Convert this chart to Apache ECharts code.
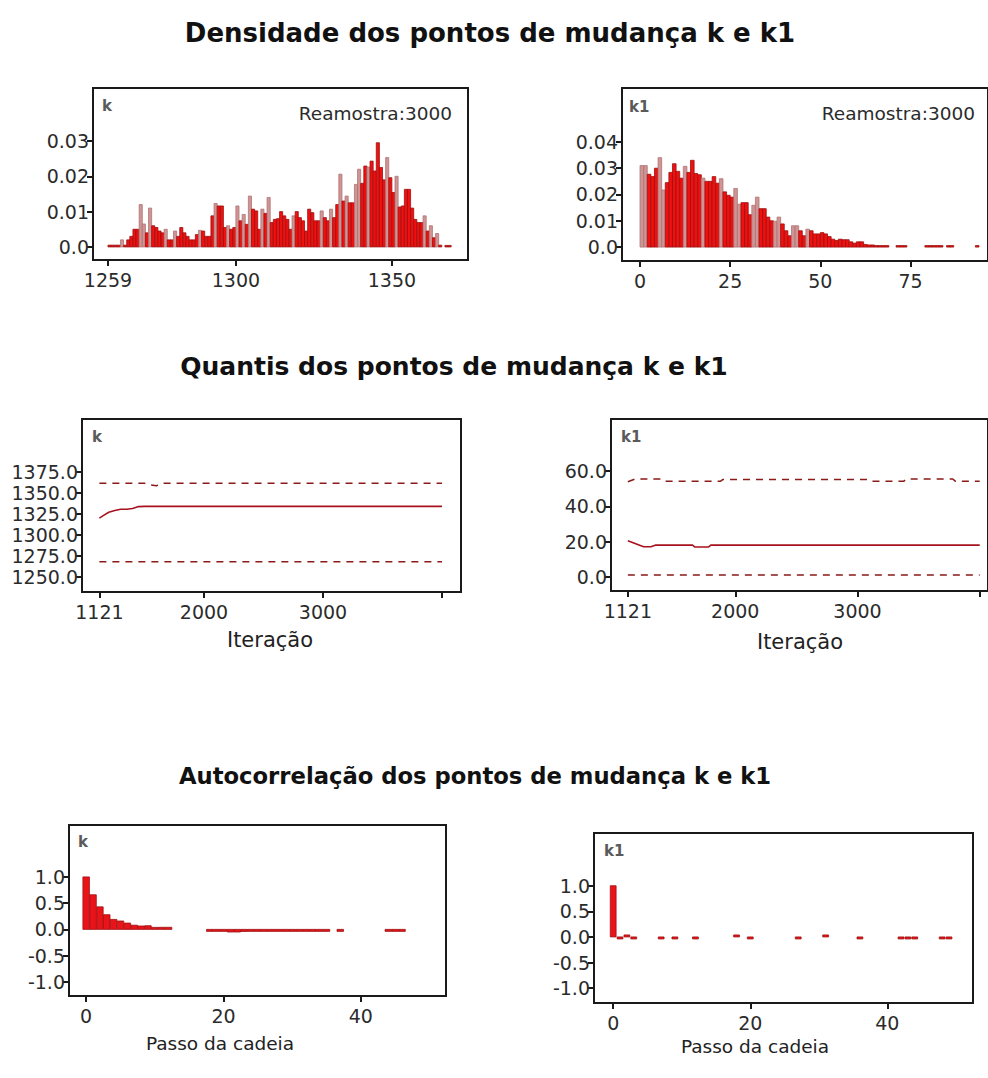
<!DOCTYPE html>
<html>
<head>
<meta charset="utf-8">
<script src="https://cdn.jsdelivr.net/npm/echarts@6/dist/echarts.min.js"></script>
<style>
html,body{margin:0;padding:0;background:#fff;}
#chart{width:988px;height:1078px;}
</style>
</head>
<body>
<div id="chart"></div>
<script>
// ---------------- DATA ----------------
// Histogram of k (density per unit bin, bins start at kHistStart)
const kHistStart = 1259;
const kHist = [
  0.0005,0.0005,0.0005,0.0005,0.002,0.0005,0.002,0.003,0.005,0.005,
  0.012,0.0065,0.004,0.011,0.006,0.0055,0.0045,0.004,0.005,0.002,
  0.002,0.0045,0.003,0.0055,0.004,0.003,0.002,0.002,0.0035,0.0047,
  0.0045,0.003,0.003,0.0088,0.0123,0.0116,0.0116,0.0055,0.006,0.005,
  0.0055,0.0116,0.0074,0.0092,0.0064,0.0144,0.0107,0.0102,0.005,0.0107,
  0.0095,0.014,0.0069,0.0078,0.008,0.01,0.0088,0.0078,0.005,0.0088,
  0.01,0.0083,0.0074,0.0045,0.0107,0.0097,0.0074,0.0074,0.0102,0.0083,
  0.0074,0.0107,0.0083,0.012,0.0206,0.013,0.0144,0.0125,0.0125,0.0177,
  0.022,0.018,0.0229,0.0226,0.0243,0.0215,0.0295,0.0225,0.019,0.0253,
  0.0196,0.0154,0.02,0.0113,0.0116,0.0163,0.0163,0.011,0.0078,0.0069,
  0.0069,0.0088,0.0045,0.006,0.0026,0.0038,0.0005,0,0.0003,0.0003
];
// Histogram of k1 (bins start at 0)
const k1HistStart = 0;
const k1Hist = [
  0.031,0.031,0.0277,0.0268,0.030,0.034,0.0217,0.0245,0.0284,0.0317,
  0.0288,0.0262,0.0307,0.0284,0.033,0.028,0.0275,0.0262,0.025,0.025,
  0.0268,0.0243,0.026,0.021,0.0197,0.019,0.0223,0.0163,0.0169,0.0169,
  0.0123,0.0159,0.019,0.0146,0.0146,0.0114,0.01,0.0098,0.0114,0.0088,
  0.0062,0.0043,0.0081,0.0081,0.0062,0.0043,0.0068,0.0062,0.005,0.005,
  0.0055,0.005,0.004,0.003,0.0025,0.003,0.0028,0.0028,0.002,0.0015,
  0.002,0.002,0.001,0.0008,0.0008,0.0005,0.0003,0.0003,0.0003,0,
  0,0.0003,0.0003,0.0003,0,0,0,0,0,0.0003,
  0.0003,0.0005,0.0005,0.0003,0,0.0003,0.0003,0,0,0,
  0,0,0,0.0003,0
];
// Quantiles of k along the chain
const kIter   = [1121,1160,1200,1250,1300,1350,1400,1450,1500,1550,1600,1650,1700,2000,2500,3000,3500,4000];
const kMedian = [1320,1323.5,1327,1329,1330.5,1330.6,1331.5,1333.7,1334,1334,1334,1334,1334,1334,1334,1334,1334,1334];
const kUpper  = [1361.5,1361.5,1361.5,1361.5,1361.5,1361.5,1361.5,1361.5,1361.5,1359.5,1358.5,1361.5,1361.5,1361.5,1361.5,1361.5,1361.5,1361.5];
const kLower  = [1268,1268,1268,1268,1268,1268,1268,1268,1268,1268,1268,1268,1268,1268,1268,1268,1268,1268];
// Quantiles of k1 along the chain
const k1Iter   = [1121,1180,1250,1310,1350,1390,1410,1650,1670,1780,1800,1880,1900,2500,3100,3120,3380,3400,3780,3800,4000];
const k1Median = [20.5,19,17.2,17.2,18.1,18.1,18.1,18.1,17.0,17.0,18.1,18.1,18.1,18.1,18.1,18.1,18.1,18.1,18.1,18.1,18.1];
const k1Upper  = [54,55.5,55.5,55.5,55.5,55.5,54.3,54.3,54.3,54.3,54.3,54.3,55.3,55.3,55.3,54.3,54.3,55.5,55.5,54.3,54.3];
const k1Lower  = [1.1,1.1,1.1,1.1,1.1,1.1,1.1,1.1,1.1,1.1,1.1,1.1,1.1,1.1,1.1,1.1,1.1,1.1,1.1,1.1,1.1];
// Autocorrelation by lag (null = not drawn)
const acfLags = Array.from({length:50},(_,i)=>i);
const acfK = [1.0,0.66,0.43,0.28,0.19,0.16,0.12,0.08,0.065,0.07,
  0.03,0.04,0.04,null,null,null,null,null,-0.01,-0.02,
  -0.03,-0.05,-0.05,-0.04,-0.02,-0.02,-0.01,-0.02,-0.01,-0.02,
  -0.02,-0.01,-0.01,-0.02,-0.01,-0.01,null,-0.01,null,null,
  null,null,null,null,-0.01,-0.01,-0.01,null,null,null];
const acfK1 = [1.0,-0.01,0.02,-0.01,null,null,null,-0.01,null,-0.01,
  null,null,-0.01,null,null,null,null,null,0.03,null,
  -0.01,null,null,null,null,null,null,-0.01,null,null,
  null,0.03,null,null,null,null,-0.01,null,null,null,
  null,null,-0.01,-0.01,-0.01,null,null,null,-0.01,-0.01];
// Tick labels
const kHistXTicks = [1259,1300,1350];
const kHistYTicks = [0,0.01,0.02,0.03];
const k1HistXTicks = [0,25,50,75];
const k1HistYTicks = [0,0.01,0.02,0.03,0.04];
const iterLabels = [1121,2000,3000];
const iterTicks = [1121,2000,3000,4000];
const kQYTicks = [1250,1275,1300,1325,1350,1375];
const k1QYTicks = [0,20,40,60];
const acfXTicks = [0,20,40];
const acfYTicks = [-1,-0.5,0,0.5,1];

// ---------------- STYLE ----------------
const pinkK = new Set([1263,1269,1270,1272,1277,1280,1288,1293,1297,1300,1302,1304,1308,1310,1318,1327,1330,1333,1335,1338,1339,1342,1348,1351,1360,1362,1364]);
const pinkK1 = new Set([0,1,5,6,12,17,22,26,27,31,32,37,38,42,43,46]);
const FONT = 'DejaVu Sans';
const TXT = '#2b2b2b';

function histData(start, vals, pinkSet){
  const out = [];
  vals.forEach((v,i)=>{ if (v>0) out.push([start+i, v, pinkSet.has(start+i)?1:0]); });
  return out;
}
function acfData(lags, vals){
  const out = [];
  lags.forEach((l,i)=>{ if (vals[i]!==null) out.push([l, vals[i]]); });
  return out;
}
function histRender(params, api){
  const x0 = api.value(0), h = api.value(1), pink = api.value(2);
  const a = api.coord([x0, 0]);
  const b = api.coord([x0+1, h]);
  let top = b[1], height = a[1]-b[1];
  if (height < 1.5){ top = a[1]-1.5; height = 1.5; }
  return {type:'rect', shape:{x:a[0], y:top, width:b[0]-a[0], height:height},
    style:{fill: pink ? '#cf9494' : '#f01010', stroke: pink ? '#b07474' : '#9a1010', lineWidth:0.8}};
}
function acfRenderFactory(w){
  return function(params, api){
    const l = api.value(0), v = api.value(1);
    const a = api.coord([l - w/2, 0]);
    const b = api.coord([l + w/2, v]);
    let y = Math.min(a[1], b[1]), h = Math.abs(a[1]-b[1]);
    if (h < 2){ y = (v>=0 ? a[1]-2 : a[1]); h = 2; }
    return {type:'rect', shape:{x:a[0], y:y, width:b[0]-a[0], height:h},
      style:{fill:'#e8141a', stroke:'#a01010', lineWidth:0.8}};
  };
}

const gridBase = {show:true, borderColor:'#1a1a1a', borderWidth:2, backgroundColor:'#fff', containLabel:false};
const grids = [
  Object.assign({left:93, top:88, width:375, height:172}, gridBase),
  Object.assign({left:622, top:88, width:367, height:173}, gridBase),
  Object.assign({left:82, top:419, width:379, height:173}, gridBase),
  Object.assign({left:611, top:419, width:378, height:172}, gridBase),
  Object.assign({left:69, top:825, width:377, height:171}, gridBase),
  Object.assign({left:594, top:833, width:379, height:170}, gridBase)
];

const fmtPlain = v => String(v);
function xAx(gi, min, max, labels, ticks){
  return {type:'value', gridIndex:gi, min:min, max:max,
    axisLine:{show:false, onZero:false},
    axisTick:{show:true, length:6, inside:false, customValues:ticks, lineStyle:{color:'#1a1a1a', width:2}},
    axisLabel:{show:true, customValues:labels, margin:10, fontFamily:FONT, fontSize:19, color:TXT, formatter:fmtPlain},
    splitLine:{show:false}};
}
function yAx(gi, min, max, ticks, fmt){
  return {type:'value', gridIndex:gi, min:min, max:max,
    axisLine:{show:false, onZero:false},
    axisTick:{show:true, length:6, inside:false, customValues:ticks, lineStyle:{color:'#1a1a1a', width:2}},
    axisLabel:{show:true, customValues:ticks, margin:4, fontFamily:FONT, fontSize:19, color:TXT, formatter:fmt},
    splitLine:{show:false}};
}
const fmtDens = v => (v===0 ? '0.0' : v.toFixed(2));
const fmt1 = v => v.toFixed(1);

const xAxes = [
  xAx(0, 1254.2, 1374.4, kHistXTicks, kHistXTicks),
  xAx(1, -5, 96.5, k1HistXTicks, k1HistXTicks),
  xAx(2, 975, 4160, iterLabels, iterTicks),
  xAx(3, 983, 4068, iterLabels, iterTicks),
  xAx(4, -2.5, 52.4, acfXTicks, acfXTicks),
  xAx(5, -2.8, 52.5, acfXTicks, acfXTicks)
];
const yAxes = [
  yAx(0, -0.0037, 0.045, kHistYTicks, fmtDens),
  yAx(1, -0.0053, 0.0605, k1HistYTicks, fmtDens),
  yAx(2, 1232, 1438, kQYTicks, fmt1),
  yAx(3, -7.9, 89.5, k1QYTicks, fmt1),
  yAx(4, -1.27, 1.99, acfYTicks, fmt1),
  yAx(5, -1.29, 2.03, acfYTicks, fmt1)
];

function zip(xs, ys){ return xs.map((x,i)=>[x, ys[i]]); }
const dashStyle = {color:'#8b1a1a', width:1.5, type:[7,6]};
const medStyle = {color:'#a8121e', width:1.6};
function lineS(gi, data, style){
  return {type:'line', xAxisIndex:gi, yAxisIndex:gi, data:data, showSymbol:false, symbol:'none',
    lineStyle:style, animation:false, silent:true};
}

const series = [
  {type:'custom', xAxisIndex:0, yAxisIndex:0, renderItem:histRender, data:histData(kHistStart,kHist,pinkK), animation:false, silent:true},
  {type:'custom', xAxisIndex:1, yAxisIndex:1, renderItem:histRender, data:histData(k1HistStart,k1Hist,pinkK1), animation:false, silent:true},
  lineS(2, zip(kIter,kUpper), dashStyle),
  lineS(2, zip(kIter,kMedian), medStyle),
  lineS(2, zip(kIter,kLower), dashStyle),
  lineS(3, zip(k1Iter,k1Upper), dashStyle),
  lineS(3, zip(k1Iter,k1Median), medStyle),
  lineS(3, zip(k1Iter,k1Lower), dashStyle),
  {type:'custom', xAxisIndex:4, yAxisIndex:4, renderItem:acfRenderFactory(0.95), data:acfData(acfLags,acfK), animation:false, silent:true},
  {type:'custom', xAxisIndex:5, yAxisIndex:5, renderItem:acfRenderFactory(0.85), data:acfData(acfLags,acfK1), animation:false, silent:true}
];

function txt(x, y, s, opt){
  return {type:'text', x:x, y:y, silent:true, z:100,
    style:Object.assign({text:s, fontFamily:FONT, fontSize:19, fill:TXT, textAlign:'left', textVerticalAlign:'middle'}, opt||{})};
}
const titleStyle = {fontSize:26, fontWeight:'bold', fill:'#111', textAlign:'center'};
const tagStyle = {fontSize:15, fontWeight:'bold', fill:'#5a5a5a'};
const nameStyle = {fontSize:21, fill:'#222', textAlign:'center'};
const name2Style = {fontSize:18.5, fill:'#222', textAlign:'center'};

const graphic = [
  txt(490, 33, 'Densidade dos pontos de mudança k e k1', titleStyle),
  txt(454, 366, 'Quantis dos pontos de mudança k e k1', Object.assign({}, titleStyle, {fontSize:25})),
  txt(475, 776, 'Autocorrelação dos pontos de mudança k e k1', Object.assign({}, titleStyle, {fontSize:22.7})),
  txt(102, 106, 'k', tagStyle),
  txt(629, 107, 'k1', tagStyle),
  txt(92, 437, 'k', tagStyle),
  txt(621, 437, 'k1', tagStyle),
  txt(78, 842, 'k', tagStyle),
  txt(604, 851, 'k1', tagStyle),
  txt(452, 113, 'Reamostra:3000', {fontSize:18.5, textAlign:'right'}),
  txt(975, 113, 'Reamostra:3000', {fontSize:18.5, textAlign:'right'}),
  txt(270, 640, 'Iteração', nameStyle),
  txt(800, 642, 'Iteração', nameStyle),
  txt(220, 1043, 'Passo da cadeia', name2Style),
  txt(755, 1046, 'Passo da cadeia', name2Style)
];

const chart = echarts.init(document.getElementById('chart'), null, {renderer:'svg'});
chart.setOption({
  animation:false,
  backgroundColor:'#fff',
  grid:grids, xAxis:xAxes, yAxis:yAxes, series:series, graphic:graphic
});
</script>
</body>
</html>
